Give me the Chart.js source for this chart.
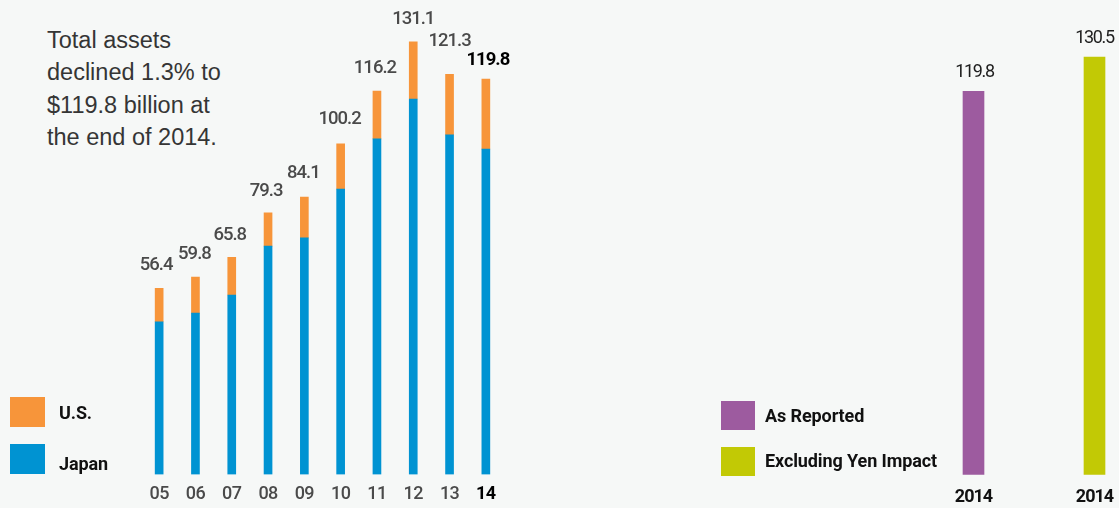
<!DOCTYPE html>
<html>
<head>
<meta charset="utf-8">
<script src="https://cdn.jsdelivr.net/npm/chart.js@4"></script>
<style>
  html, body { margin: 0; padding: 0; }
  body {
    width: 1119px; height: 508px; overflow: hidden; position: relative;
    background: #f6f8f7;
    font-family: Roboto, sans-serif;
  }
  canvas { position: absolute; top: 0; }
  #assetsChart { left: 0; }
  #yenChart { left: 560px; }
  .summary {
    position: absolute; left: 47px; top: 24px;
    font-family: "Liberation Sans", Arial, sans-serif;
    font-size: 23.5px; line-height: 32.3px; color: #353535;
  }
  .legend { position: absolute; }
  .legend .item { position: absolute; white-space: nowrap; }
  .legend .box { position: absolute; left: 0; }
  .legend .name {
    position: absolute; font-size: 18px; line-height: 18px; color: #111;
    font-weight: bold; letter-spacing: -0.1px;
  }
</style>
</head>
<body>
<div class="summary">Total assets<br>declined 1.3% to<br>$119.8 billion at<br>the end of 2014.</div>
<canvas id="assetsChart" width="560" height="508"></canvas>
<canvas id="yenChart" width="600" height="508"></canvas>
<div class="legend" id="assetsLegend" style="left:10px; top:0;"></div>
<div class="legend" id="yenLegend" style="left:721px; top:0;"></div>
<script>
// Total assets by region, $ billions
const years = ['05', '06', '07', '08', '09', '10', '11', '12', '13', '14'];
const japanAssets = [46.3, 48.9, 54.4, 69.2, 71.7, 86.5, 101.7, 113.8, 102.9, 98.6];
const usAssets = [10.1, 10.9, 11.4, 10.1, 12.4, 13.7, 14.5, 17.3, 18.4, 21.2];

// 2014 total, as reported vs. excluding the yen impact
const yenLabels = ['2014', '2014'];
const yenSeries = ['As Reported', 'Excluding Yen Impact'];
const yenValues = [119.8, 130.5];

const ORANGE = '#f7953a';
const BLUE = '#0093d2';
const PURPLE = '#9d5b9f';
const LIME = '#c2c905';
const FONT = 'Roboto, sans-serif';

// Tighter tracking for the axis text
const tightText = {
    id: 'tightText',
    beforeDraw(chart, args, opts) {
        chart.ctx.letterSpacing = opts.spacing || '0px';
    }
};

// Writes the stacked total above each column
const totalLabels = {
    id: 'totalLabels',
    afterDatasetsDraw(chart, args, opts) {
        const ctx = chart.ctx;
        const last = chart.data.datasets.length - 1;
        const topMeta = chart.getDatasetMeta(last);
        ctx.save();
        ctx.textAlign = 'center';
        ctx.textBaseline = 'alphabetic';
        ctx.letterSpacing = opts.spacing;
        topMeta.data.forEach((bar, i) => {
            let total = 0;
            chart.data.datasets.forEach(ds => { total += ds.data[i]; });
            const highlight = opts.highlight === i;
            const gap = opts.gaps ? opts.gaps[i] : opts.gap;
            const dx = opts.shifts ? opts.shifts[i] : 0;
            ctx.font = (highlight ? 'bold ' : opts.weight + ' ') + opts.size + 'px ' + FONT;
            ctx.fillStyle = highlight ? '#000' : opts.color;
            ctx.fillText(total.toFixed(1), bar.x + dx, bar.y - gap);
        });
        ctx.restore();
    }
};

new Chart(document.getElementById('assetsChart'), {
    type: 'bar',
    data: {
        labels: years,
        datasets: [
            { label: 'Japan', data: japanAssets, backgroundColor: BLUE },
            { label: 'U.S.', data: usAssets, backgroundColor: ORANGE }
        ]
    },
    options: {
        responsive: false,
        animation: false,
        barThickness: 8,
        layout: { padding: { left: 141, right: 56, top: 12.5, bottom: 0 } },
        scales: {
            x: {
                stacked: true,
                border: { display: false },
                grid: { display: false, drawTicks: false },
                ticks: {
                    padding: 9,
                    color: (c) => c.index === 9 ? '#000' : '#4a4a4a',
                    font: (c) => ({ family: FONT, size: 18, weight: c.index === 9 ? 'bold' : '500' })
                },
                afterFit: (s) => { s.height = 33.5; }
            },
            y: { stacked: true, display: false, min: 0, max: 140 }
        },
        plugins: {
            legend: { display: false },
            tooltip: { enabled: false },
            tightText: { spacing: '-0.6px' },
            totalLabels: {
                size: 18.5, weight: '500', spacing: '-1px', color: '#4a4a4a', highlight: 9,
                gaps: [18, 18, 17, 17, 19, 20, 18, 18, 28, 14],
                shifts: [-3, -1, -2, -2, -1, -1, -2, 0, 0, 2]
            }
        }
    },
    plugins: [tightText, totalLabels]
});

new Chart(document.getElementById('yenChart'), {
    type: 'bar',
    data: {
        labels: yenLabels,
        datasets: [{
            label: '2014',
            data: yenValues,
            backgroundColor: [PURPLE, LIME]
        }]
    },
    options: {
        responsive: false,
        animation: false,
        barThickness: 21,
        layout: { padding: { left: 353, right: 5, top: 26.7, bottom: 0 } },
        scales: {
            x: {
                border: { display: false },
                grid: { display: false, drawTicks: false },
                ticks: {
                    padding: 12,
                    color: '#111',
                    font: { family: FONT, size: 18, weight: 'bold' }
                },
                afterFit: (s) => { s.height = 33.3; }
            },
            y: { display: false, min: 0, max: 140 }
        },
        plugins: {
            legend: { display: false },
            tooltip: { enabled: false },
            tightText: { spacing: '-1px' },
            totalLabels: { size: 18, weight: 'normal', spacing: '-1.3px', gap: 14, color: '#1e1e1e', highlight: -1, shifts: [1, 0] }
        }
    },
    plugins: [tightText, totalLabels]
});

// HTML legends, one swatch per series
function buildLegend(el, entries) {
    entries.forEach(e => {
        const item = document.createElement('div');
        item.className = 'item';
        const box = document.createElement('div');
        box.className = 'box';
        box.style.cssText = `top:${e.boxTop}px; width:${e.w}px; height:${e.h}px; background:${e.color};`;
        const name = document.createElement('div');
        name.className = 'name';
        name.textContent = e.name;
        name.style.cssText = `left:${e.textLeft}px; top:${e.textTop}px;`;
        item.appendChild(box);
        item.appendChild(name);
        el.appendChild(item);
    });
}

buildLegend(document.getElementById('assetsLegend'), [
    { name: 'U.S.', color: ORANGE, boxTop: 397, w: 35, h: 30, textLeft: 49, textTop: 404 },
    { name: 'Japan', color: BLUE, boxTop: 444, w: 35, h: 30, textLeft: 49, textTop: 455 }
]);
buildLegend(document.getElementById('yenLegend'), [
    { name: yenSeries[0], color: PURPLE, boxTop: 401, w: 34, h: 29, textLeft: 44, textTop: 407 },
    { name: yenSeries[1], color: LIME, boxTop: 447, w: 34, h: 29, textLeft: 44, textTop: 452 }
]);
</script>
</body>
</html>
